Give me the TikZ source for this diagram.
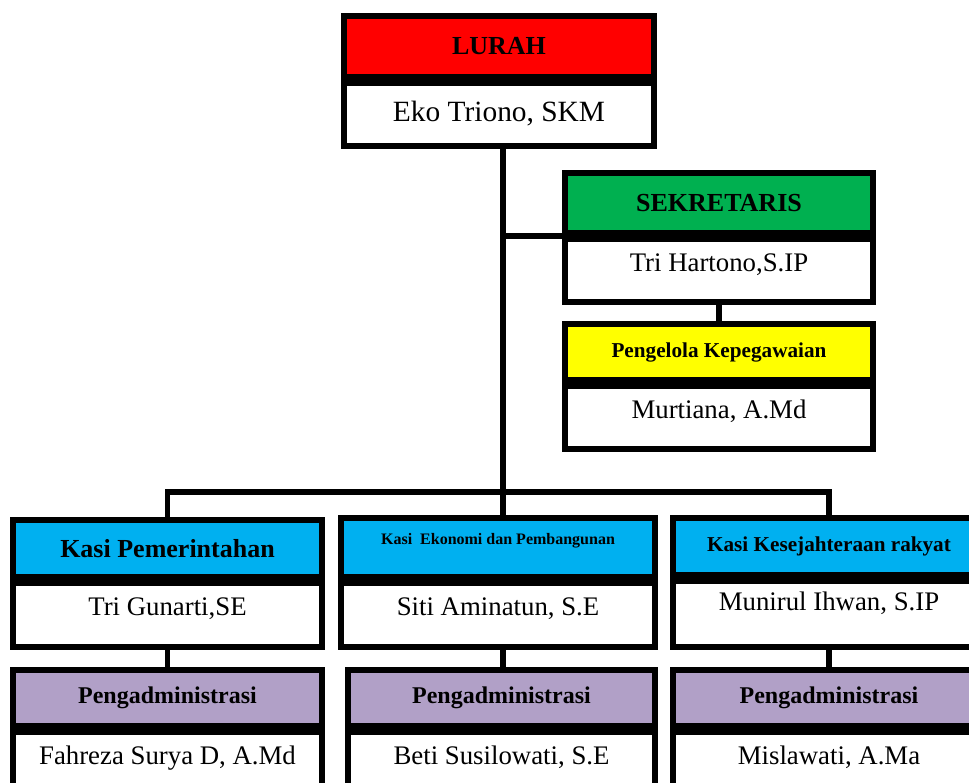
\documentclass[tikz,border=0pt]{standalone}
\usepackage{fontspec}
\setmainfont{Liberation Serif}
\usetikzlibrary{positioning}

\definecolor{lurahred}{HTML}{FF0000}
\definecolor{sekgreen}{HTML}{00B050}
\definecolor{pegyellow}{HTML}{FFFF00}
\definecolor{kasicyan}{HTML}{00B0F0}
\definecolor{admlilac}{HTML}{B1A0C7}

\begin{document}
\begin{tikzpicture}[
  x=0.5pt, y=-0.5pt,
  box/.style  = {draw, line width=2.9pt, inner sep=0pt, align=center},
  head/.style = {box, font=\bfseries},
  who/.style  = {box, fill=white, anchor=north, text height=9pt, text depth=8pt,
                 font=\fontsize{13.4}{15}\selectfont},
  conn/.style = {line width=2.7pt},
]
\clip (0,0) rectangle (969,782);

%% ---- lurah ----------------------------------------------------------------
\node[head, fill=lurahred, minimum width=155pt, minimum height=30.5pt,
      font=\bfseries\fontsize{13}{15}\selectfont] (lurahH) at (499,46.5) {LURAH};
\node[who, minimum width=155pt, minimum height=31.5pt, text height=10pt, text depth=3pt,
      font=\fontsize{14.7}{16}\selectfont] (lurahN) at (lurahH.south) {Eko Triono, SKM};

%% ---- sekretaris and pengelola ---------------------------------------------
\node[head, fill=sekgreen, minimum width=154pt, minimum height=30pt,
      font=\bfseries\fontsize{13}{15}\selectfont] (sekH) at (719,203) {SEKRETARIS};
\node[who, minimum width=154pt, minimum height=31.5pt] (sekN) at (sekH.south) {Tri Hartono,S.IP};

\node[head, fill=pegyellow, minimum width=154pt, minimum height=28pt,
      font=\bfseries\fontsize{10.6}{12}\selectfont] (pegH) at (719,352) {Pengelola Kepegawaian};
\node[who, minimum width=154pt, minimum height=31.5pt] (pegN) at (pegH.south) {Murtiana, A.Md};

%% ---- kasi row -------------------------------------------------------------
\node[head, fill=kasicyan, minimum width=154.5pt, minimum height=28.5pt,
      font=\bfseries\fontsize{13}{15}\selectfont] (pemH) at (167.5,548.5) {Kasi Pemerintahan};
\node[who, minimum width=154.5pt, minimum height=32pt] (pemN) at (pemH.south) {Tri Gunarti,SE};

\node[head, fill=kasicyan, minimum width=157pt, minimum height=29.5pt] (ekoH) at (498,547.5) {};
\node[font=\bfseries\fontsize{8}{10}\selectfont] (ekoT) at (498,541) {Kasi\ \ Ekonomi dan Pembangunan};
\node[who, minimum width=157pt, minimum height=32pt] (ekoN) at (ekoH.south) {Siti Aminatun, S.E};

\node[head, fill=kasicyan, minimum width=156pt, minimum height=28.5pt,
      font=\bfseries\fontsize{10.6}{12}\selectfont] (kesH) at (829,546.5) {Kasi Kesejahteraan rakyat};
\node[who, minimum width=156pt, minimum height=33pt, text depth=12pt] (kesN) at (kesH.south) {Munirul Ihwan, S.IP};

%% ---- pengadministrasi row -------------------------------------------------
\foreach \nm/\cx/\w/\who in {admA/167.5/154.5/{Fahreza Surya D, A.Md},
                             admB/501.5/153.5/{Beti Susilowati, S.E},
                             admC/829/156/{Mislawati, A.Ma}} {
  \node[head, fill=admlilac, minimum width=\w pt, minimum height=28pt,
        font=\bfseries\fontsize{12}{14}\selectfont] (\nm H) at (\cx,698) {Pengadministrasi};
  \node[who, minimum width=\w pt, minimum height=32pt] (\nm N) at (\nm H.south) {\who};
}

%% ---- connectors -----------------------------------------------------------
\coordinate (bus) at (503,492);
\draw[conn] (lurahN.south -| bus) -- (bus);
\draw[conn] (bus |- sekH.south west) -- (sekH.south west);
\draw[conn] (sekN.south) -- (pegH.north);
\draw[conn] (pemH.north) -- (pemH.north |- bus) -- (kesH.north |- bus) -- (kesH.north);
\draw[conn] (bus) -- (bus |- ekoH.north);
\draw[conn] (pemN.south) -- (admAH.north);
\draw[conn] (ekoN.south -| bus) -- (admBH.north -| bus);
\draw[conn] (kesN.south) -- (admCH.north);

\end{tikzpicture}
\end{document}
